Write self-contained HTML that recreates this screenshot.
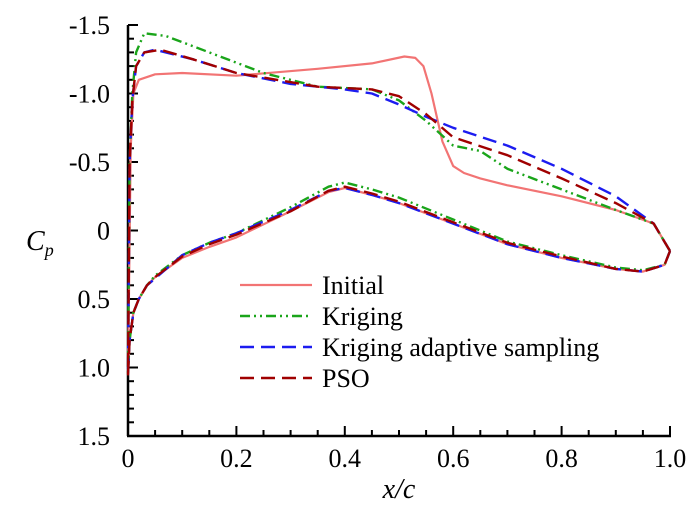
<!DOCTYPE html>
<html><head><meta charset="utf-8"><style>
html,body{margin:0;padding:0;background:#fff;}
svg, svg text{font-family:"Liberation Serif","DejaVu Serif",serif;}
svg{display:block;}
</style></head><body>
<svg id="chart" width="700" height="513" viewBox="0 0 700 513" xmlns="http://www.w3.org/2000/svg" font-family="Liberation Serif, DejaVu Serif, serif">
<g id="axes"></g>
<g id="series"></g>
<text x="26" y="250" font-size="28" font-style="italic">C<tspan font-size="18" dy="6">p</tspan></text>
<text x="399" y="498" font-size="28" font-style="italic" text-anchor="middle">x/c</text>
<g id="legend"></g>
</svg>
<script>
const xTicks=[0,0.2,0.4,0.6,0.8,1.0];
const xTickLabels=["0","0.2","0.4","0.6","0.8","1.0"];
const yTicks=[-1.5,-1.0,-0.5,0,0.5,1.0,1.5];
const yTickLabels=["-1.5","-1.0","-0.5","0","0.5","1.0","1.5"];
const seriesNames=["Initial","Kriging","Kriging adaptive sampling","PSO"];
const initialX=[1.0,0.97,0.9,0.8,0.7,0.65,0.62,0.6,0.58,0.56,0.545,0.53,0.51,0.45,0.35,0.2,0.1,0.05,0.02,0.01,0.005,0.0,0.003,0.01,0.02,0.035,0.05,0.1,0.15,0.2,0.3,0.37,0.4,0.45,0.5,0.6,0.7,0.8,0.9,0.95,0.99,1.0];
const initialY=[0.15,-0.05,-0.15,-0.25,-0.33,-0.38,-0.42,-0.47,-0.65,-1.0,-1.2,-1.26,-1.27,-1.22,-1.18,-1.13,-1.15,-1.14,-1.1,-1.0,-0.6,1.05,0.8,0.6,0.5,0.4,0.34,0.2,0.12,0.05,-0.14,-0.28,-0.31,-0.26,-0.2,-0.05,0.1,0.2,0.28,0.3,0.25,0.15];
const krigX=[1.0,0.97,0.9,0.8,0.7,0.65,0.6,0.55,0.5,0.45,0.35,0.25,0.15,0.07,0.03,0.015,0.008,0.003,0.0,0.003,0.01,0.02,0.035,0.05,0.1,0.15,0.2,0.3,0.37,0.4,0.45,0.5,0.6,0.7,0.8,0.9,0.95,0.99,1.0];
const krigY=[0.15,-0.05,-0.15,-0.3,-0.45,-0.58,-0.62,-0.8,-0.95,-1.03,-1.05,-1.15,-1.3,-1.42,-1.44,-1.3,-1.0,-0.5,1.05,0.8,0.6,0.5,0.4,0.33,0.18,0.09,0.02,-0.17,-0.32,-0.35,-0.3,-0.24,-0.08,0.08,0.18,0.27,0.29,0.25,0.15];
const adaptX=[1.0,0.97,0.9,0.8,0.7,0.6,0.55,0.5,0.45,0.4,0.3,0.2,0.12,0.05,0.03,0.015,0.008,0.003,0.0,0.003,0.01,0.02,0.035,0.05,0.1,0.15,0.2,0.3,0.37,0.4,0.45,0.5,0.6,0.7,0.8,0.9,0.95,0.99,1.0];
const adaptY=[0.15,-0.05,-0.25,-0.45,-0.62,-0.75,-0.83,-0.92,-1.0,-1.03,-1.07,-1.15,-1.25,-1.32,-1.3,-1.2,-0.95,-0.5,1.05,0.8,0.6,0.5,0.4,0.35,0.18,0.09,0.02,-0.15,-0.29,-0.31,-0.26,-0.2,-0.05,0.1,0.2,0.28,0.3,0.25,0.15];
const psoX=[1.0,0.97,0.9,0.8,0.7,0.6,0.55,0.5,0.45,0.35,0.2,0.12,0.06,0.03,0.015,0.008,0.003,0.0,0.003,0.01,0.02,0.035,0.05,0.1,0.15,0.2,0.3,0.37,0.4,0.45,0.5,0.6,0.7,0.8,0.9,0.95,0.99,1.0];
const psoY=[0.15,-0.05,-0.2,-0.38,-0.55,-0.68,-0.85,-0.98,-1.03,-1.05,-1.15,-1.25,-1.32,-1.3,-1.2,-0.95,-0.5,1.05,0.8,0.6,0.5,0.4,0.34,0.19,0.1,0.03,-0.14,-0.29,-0.32,-0.27,-0.21,-0.06,0.09,0.19,0.28,0.3,0.25,0.15];

const NS="http://www.w3.org/2000/svg";
const X0=128,X1=670,Y0=25,Y1=436;
const xs=v=>X0+(X1-X0)*v;
const ys=v=>Y0+(Y1-Y0)*(v+1.5)/3;
function mk(tag,attrs,parent){const e=document.createElementNS(NS,tag);for(const k in attrs)e.setAttribute(k,attrs[k]);parent.appendChild(e);return e;}
const axes=document.getElementById('axes');
let l;
l=mk('line',{x1:X0,y1:Y0,x2:X0,y2:Y1,stroke:'#000','stroke-width':2.5},axes);

l=mk('line',{x1:X0-1,y1:Y1,x2:X1+1,y2:Y1,stroke:'#000','stroke-width':2.5},axes);

for(let i=0;i<=30;i++){const v=-1.5+i*0.1;const maj=i%5===0;
 l=mk('line',{x1:X0,y1:ys(v),x2:X0+(maj?10:6),y2:ys(v),stroke:'#000','stroke-width':2},axes);
 }
for(let i=0;i<=20;i++){const v=i*0.05;const maj=i%4===0;
 l=mk('line',{x1:xs(v),y1:Y1,x2:xs(v),y2:Y1-(maj?10:6),stroke:'#000','stroke-width':2},axes);
 }
yTicks.forEach((v,i)=>{const t=mk('text',{x:X0-18,y:ys(v)+9,'font-size':26,'text-anchor':'end'},axes);t.textContent=yTickLabels[i];
 });
xTicks.forEach((v,i)=>{const t=mk('text',{x:xs(v),y:Y1+31,'font-size':26,'text-anchor':'middle'},axes);t.textContent=xTickLabels[i];
 });

const styles=[
 {c:'#f27474',d:'',w:2.2},
 {c:'#1aa51a',d:'10 4 2 4 2 4',w:2.4},
 {c:'#1c1cf0',d:'14 7',w:2.4},
 {c:'#a00000',d:'14 7',w:2.4}];
const data=[[initialX,initialY],[krigX,krigY],[adaptX,adaptY],[psoX,psoY]];
const ser=document.getElementById('series');
const sname=['series-initial','series-kriging','series-kriging-adaptive','series-pso'];
data.forEach((s,k)=>{let d='';s[0].forEach((x,i)=>{d+=(i?'L':'M')+xs(x).toFixed(1)+','+ys(s[1][i]).toFixed(1);});
 const p=mk('path',{d:d,fill:'none',stroke:styles[k].c,'stroke-width':styles[k].w,'stroke-dasharray':styles[k].d,'stroke-linejoin':'round'},ser);
 });

const leg=document.getElementById('legend');
const ly=[285,316,347,378];
seriesNames.forEach((n,k)=>{
 const ln=mk('line',{x1:240,y1:ly[k],x2:312,y2:ly[k],stroke:styles[k].c,'stroke-width':styles[k].w,'stroke-dasharray':styles[k].d},leg);
 
 const t=mk('text',{x:322,y:ly[k]+9,'font-size':26},leg);t.textContent=n;
 });
</script>
</body></html>
